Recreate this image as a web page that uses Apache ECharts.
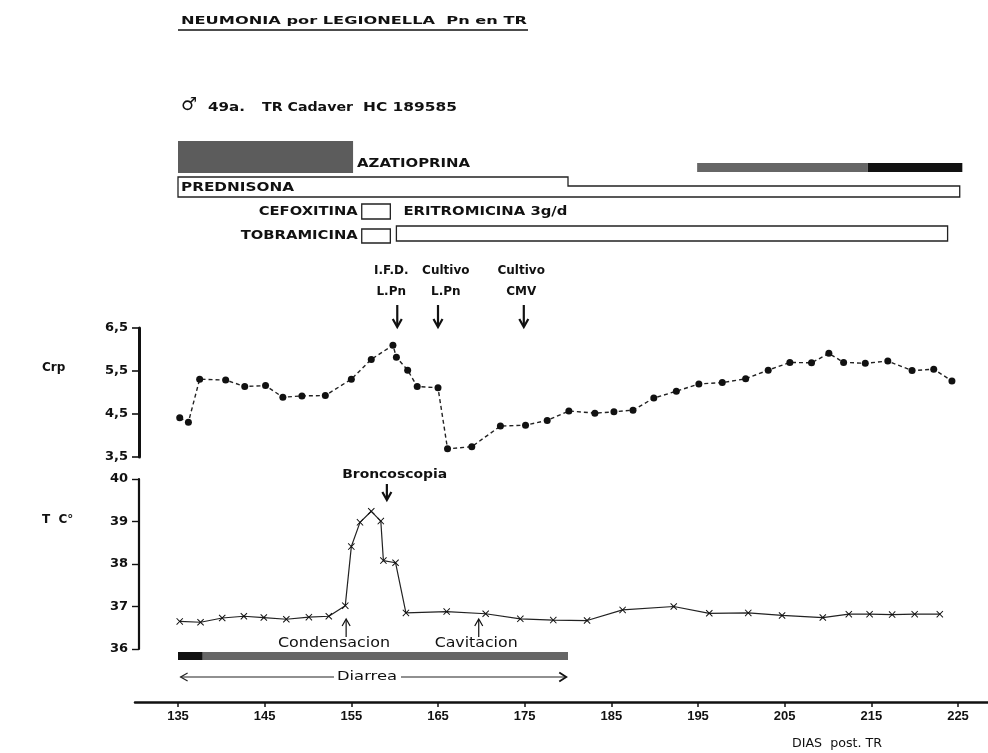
<!DOCTYPE html>
<html><head><meta charset="utf-8">
<script src="https://cdn.jsdelivr.net/npm/echarts@6/dist/echarts.min.js"></script>
<style>html,body{margin:0;padding:0;background:#fff}#c{width:988px;height:753px}</style>
</head><body><div id="c"></div>
<script>
// ---------------- DATA ----------------
const xTicks = [135,145,155,165,175,185,195,205,215,225];
const crpDays = [135.2,136.2,137.5,140.5,142.7,145.1,147.1,149.3,152.0,155.0,157.3,159.8,160.2,161.5,162.6,165.0,166.1,168.9,172.2,175.1,177.6,180.1,183.1,185.3,187.5,189.9,192.5,195.1,197.8,200.5,203.1,205.6,208.1,210.1,211.8,214.3,216.9,219.7,222.2,224.3];
const crpValues = [4.41,4.31,5.31,5.29,5.14,5.16,4.89,4.92,4.93,5.31,5.77,6.10,5.82,5.52,5.14,5.11,3.69,3.74,4.22,4.24,4.35,4.57,4.52,4.55,4.59,4.87,5.03,5.20,5.23,5.32,5.52,5.70,5.69,5.91,5.70,5.68,5.73,5.51,5.54,5.27];
const tempDays = [135.2,137.6,140.1,142.6,144.9,147.5,150.1,152.4,154.3,155.0,156.0,157.3,158.4,158.7,160.1,161.3,166.0,170.5,174.5,178.3,182.2,186.3,192.2,196.3,200.8,204.7,209.4,212.4,214.8,217.4,220.0,222.9];
const tempValues = [36.65,36.63,36.73,36.77,36.74,36.70,36.75,36.77,37.02,38.41,38.98,39.24,39.01,38.08,38.03,36.85,36.88,36.83,36.71,36.68,36.67,36.92,37.00,36.84,36.85,36.79,36.74,36.82,36.82,36.81,36.82,36.82];
// treatments (days): start, [change], end
const azatioprinaEarly = [135, 155.2];
const azatioprinaLate = [194.9, 214.6, 225.5];   // start, dark part start, end
const prednisona = [135, 180, 225.2];            // start, dose step, end
const cefoxitina = [156.2, 159.5];
const tobramicina = [156.2, 159.5];
const eritromicina = [160.2, 223.8];
const diarrea = [135, 137.8, 180];               // start, dark part end, end
const diarreaArrow = [135.3, 179.8];
// events
const eventDays = [160.3, 165.0, 174.9];
const eventLabelDays = [159.6, 165.9, 174.6];
const eventLabels = [['I.F.D.','L.Pn'],['Cultivo','L.Pn'],['Cultivo','CMV']];
const tempEventDays = [159.1, 154.4, 169.7];
const tempEventLabelDays = [160.0, 153.0, 169.4];
const tempEventLabels = ['Broncoscopia','Condensacion','Cavitacion'];

// ---------------- LAYOUT ----------------
const PPD = 780/90;               // pixels per day
const DAY0_PX = 178;              // pixel of day 135
const GL = 139, GW = 849;
const XMIN = 135 - (DAY0_PX-GL)/PPD, XMAX = XMIN + GW/PPD;
const BL = 135, BW = 853;
const BXMIN = 135 - (DAY0_PX-BL)/PPD, BXMAX = BXMIN + BW/PPD;
const FONT = '"DejaVu Sans", "Liberation Sans", sans-serif';
const INK = '#111';

const mctx = document.createElement('canvas').getContext('2d');
function measure(t, font){ mctx.font = font; return mctx.measureText(t).width; }
function txt(t, font, x, y, w, align){
  const s = w ? w/measure(t, font) : 1;
  align = align || 'left';
  return {type:'text', x:x, y:y, scaleX:s, silent:true,
    style:{text:t, x:0, y:0, font:font, fill:INK, textAlign:align, textVerticalAlign:'middle', align:align, verticalAlign:'middle'}};
}
const LBL = 'bold 12px ' + FONT;
const ANN = 'bold 12px ' + FONT;

const drugKinds = ['azaEarly','azaLate','pred','cefox','tobra','eritro','diarrea'];
function renderDrug(params, api){
  const X = d => api.coord([d, 0])[0];
  const Y = p => api.coord([XMIN, p])[1];
  const k = drugKinds[params.dataIndex];
  const ch = [];
  const box = (x0,x1,y0,y1) => ({type:'rect', shape:{x:X(x0), y:Y(y0), width:X(x1)-X(x0), height:Y(y1)-Y(y0)}, style:{fill:'none', stroke:'#222', lineWidth:1.3}});
  const bar = (x0,x1,y0,y1,c) => ({type:'rect', shape:{x:X(x0), y:Y(y0), width:X(x1)-X(x0), height:Y(y1)-Y(y0)}, style:{fill:c}});
  if (k==='azaEarly'){
    ch.push(bar(azatioprinaEarly[0], azatioprinaEarly[1], 141, 173, '#5c5c5c'));
    ch.push(txt('AZATIOPRINA', LBL, X(azatioprinaEarly[1])+4, Y(164), 113));
  } else if (k==='azaLate'){
    ch.push(bar(azatioprinaLate[0], azatioprinaLate[1], 163, 172, '#666'));
    ch.push(bar(azatioprinaLate[1], azatioprinaLate[2], 163, 172, '#111'));
  } else if (k==='pred'){
    const s=X(prednisona[0]), m=X(prednisona[1]), e=X(prednisona[2]);
    ch.push({type:'polygon', shape:{points:[[s,Y(177)],[m,Y(177)],[m,Y(186)],[e,Y(186)],[e,Y(197)],[s,Y(197)]]}, style:{fill:'none', stroke:'#222', lineWidth:1.3}});
    ch.push(txt('PREDNISONA', LBL, s+3, Y(187.5), 113));
  } else if (k==='cefox'){
    ch.push(box(cefoxitina[0], cefoxitina[1], 204, 219));
    ch.push(txt('CEFOXITINA', LBL, X(cefoxitina[0])-4, Y(212), 99, 'right'));
  } else if (k==='tobra'){
    ch.push(box(tobramicina[0], tobramicina[1], 229, 243));
    ch.push(txt('TOBRAMICINA', LBL, X(tobramicina[0])-4, Y(236), 117, 'right'));
  } else if (k==='eritro'){
    ch.push(box(eritromicina[0], eritromicina[1], 226, 241));
    ch.push(txt('ERITROMICINA 3g/d', LBL, X(eritromicina[0])+7, Y(212), 164));
  } else if (k==='diarrea'){
    ch.push(bar(diarrea[0], diarrea[2], 652, 660, '#666'));
    ch.push(bar(diarrea[0], diarrea[1], 652, 660, '#111'));
    const a0=X(diarreaArrow[0]), a1=X(diarreaArrow[1]), y=Y(677);
    const tc = 367, tw = 60;
    const st = {stroke:'#222', lineWidth:1.2, fill:'none'};
    ch.push({type:'line', shape:{x1:a0, y1:y, x2:tc-tw/2-3, y2:y}, style:st});
    ch.push({type:'line', shape:{x1:tc+tw/2+4, y1:y, x2:a1, y2:y}, style:st});
    ch.push({type:'polyline', shape:{points:[[a0+7,y-4],[a0,y],[a0+7,y+4]]}, style:st});
    ch.push({type:'polyline', shape:{points:[[a1-7,y-4.5],[a1,y],[a1-7,y+4.5]]}, style:{stroke:'#111', lineWidth:1.8, fill:'none'}});
    ch.push(txt('Diarrea', '12px '+FONT, tc-tw/2, y, tw));
  }
  return {type:'group', children:ch};
}

function renderEvent(params, api){
  const X = d => api.coord([d, 0])[0];
  const Y = p => api.coord([XMIN, p])[1];
  const i = params.dataIndex;
  const ax = X(eventDays[i]), lx = X(eventLabelDays[i]);
  const st = {stroke:INK, lineWidth:2.2, fill:'none'};
  return {type:'group', children:[
    txt(eventLabels[i][0], ANN, lx, Y(271), null, 'center'),
    txt(eventLabels[i][1], ANN, lx, Y(292), null, 'center'),
    {type:'line', shape:{x1:ax, y1:Y(305), x2:ax, y2:Y(326)}, style:st},
    {type:'polyline', shape:{points:[[ax-4.5,Y(319)],[ax,Y(327)],[ax+4.5,Y(319)]]}, style:st}
  ]};
}

function renderTempEvent(params, api){
  const X = d => api.coord([d, 0])[0];
  const Y = p => api.coord([XMIN, p])[1];
  const i = params.dataIndex;
  const ax = X(tempEventDays[i]), lx = X(tempEventLabelDays[i]);
  const widths = [105, 112, 83];
  if (i === 0){
    const st = {stroke:INK, lineWidth:2.2, fill:'none'};
    return {type:'group', children:[
      txt(tempEventLabels[i], 'bold 13px '+FONT, lx, Y(475), widths[i], 'center'),
      {type:'line', shape:{x1:ax, y1:Y(484), x2:ax, y2:Y(499)}, style:st},
      {type:'polyline', shape:{points:[[ax-4.5,Y(492)],[ax,Y(500)],[ax+4.5,Y(492)]]}, style:st}
    ]};
  }
  const st = {stroke:INK, lineWidth:1.2, fill:'none'};
  return {type:'group', children:[
    txt(tempEventLabels[i], '14px '+FONT, lx, Y(643), widths[i], 'center'),
    {type:'line', shape:{x1:ax, y1:Y(637), x2:ax, y2:Y(620)}, style:st},
    {type:'polyline', shape:{points:[[ax-4,Y(626)],[ax,Y(619)],[ax+4,Y(626)]]}, style:st}
  ]};
}

const chart = echarts.init(document.getElementById('c'), null, {renderer:'canvas'});
const yLabel = {fontFamily:FONT, fontWeight:'bold', fontSize:13, color:INK, margin:11, padding:[0,0,6,0]};
const hiddenX = (g, mn, mx) => ({type:'value', gridIndex:g, min:mn, max:mx, show:false, splitLine:{show:false}});

const graphicEls = [
  {type:'text', x:181, y:21, scaleX:346/measure('NEUMONIA por LEGIONELLA  Pn en TR','bold 11px '+FONT), style:{text:'NEUMONIA por LEGIONELLA  Pn en TR', font:'bold 11px '+FONT, fill:INK, textAlign:'left', textVerticalAlign:'middle'}},
  {type:'line', shape:{x1:178, y1:30, x2:528, y2:30}, style:{stroke:INK, lineWidth:1.3}},
  {type:'text', x:181, y:105, style:{text:'\u2642', font:'bold 18px '+FONT, fill:INK, textAlign:'left', textVerticalAlign:'middle'}},
  {type:'text', x:208, y:108, scaleX:37/measure('49a.','bold 13px '+FONT), style:{text:'49a.', font:'bold 13px '+FONT, fill:INK, textAlign:'left', textVerticalAlign:'middle'}},
  {type:'text', x:262, y:108, scaleX:91/measure('TR Cadaver','bold 13px '+FONT), style:{text:'TR Cadaver', font:'bold 13px '+FONT, fill:INK, textAlign:'left', textVerticalAlign:'middle'}},
  {type:'text', x:363, y:108, scaleX:94/measure('HC 189585','bold 13px '+FONT), style:{text:'HC 189585', font:'bold 13px '+FONT, fill:INK, textAlign:'left', textVerticalAlign:'middle'}},
  {type:'text', x:42, y:368, style:{text:'Crp', font:'bold 12px '+FONT, fill:INK, textAlign:'left', textVerticalAlign:'middle'}},
  {type:'text', x:42, y:520, style:{text:'T  C\u00b0', font:'bold 12px '+FONT, fill:INK, textAlign:'left', textVerticalAlign:'middle'}},
  {type:'text', x:792, y:744, scaleX:90/measure('DIAS  post. TR','13px '+FONT), style:{text:'DIAS  post. TR', font:'13px '+FONT, fill:INK, textAlign:'left', textVerticalAlign:'middle'}}
];

chart.setOption({
  animation:false,
  backgroundColor:'#fff',
  grid:[
    {left:GL, width:GW, top:328, height:129, outerBoundsMode:'none'},
    {left:GL, width:GW, top:479, height:170, outerBoundsMode:'none'},
    {left:GL, width:GW, top:0, height:753, outerBoundsMode:'none'},
    {left:BL, width:BW, top:701, height:1, outerBoundsMode:'none'}
  ],
  xAxis:[
    hiddenX(0, XMIN, XMAX),
    hiddenX(1, XMIN, XMAX),
    hiddenX(2, XMIN, XMAX),
    {type:'value', gridIndex:3, min:BXMIN, max:BXMAX, position:'bottom',
     axisLine:{show:true, lineStyle:{color:INK, width:2.5}},
     axisTick:{show:true, customValues:xTicks, length:5, lineStyle:{color:INK, width:1.5}},
     axisLabel:{show:true, customValues:xTicks, margin:8, fontFamily:'"Liberation Sans", sans-serif', fontWeight:'bold', fontSize:13, color:INK},
     splitLine:{show:false}}
  ],
  yAxis:[
    {type:'value', gridIndex:0, min:3.5, max:6.5, interval:1, position:'left',
     axisLine:{show:true, lineStyle:{color:INK, width:3}},
     axisTick:{show:true, length:7, lineStyle:{color:INK, width:1.6}},
     axisLabel:Object.assign({formatter:v=>v.toFixed(1).replace('.', ',')}, yLabel),
     splitLine:{show:false}},
    {type:'value', gridIndex:1, min:36, max:40, interval:1, position:'left',
     axisLine:{show:true, lineStyle:{color:INK, width:2.2}},
     axisTick:{show:true, length:7, lineStyle:{color:INK, width:1.4}},
     axisLabel:Object.assign({formatter:v=>String(v)}, yLabel),
     splitLine:{show:false}},
    {type:'value', gridIndex:2, min:0, max:753, inverse:true, show:false, splitLine:{show:false}},
    {type:'value', gridIndex:3, min:0, max:1, show:false, splitLine:{show:false}}
  ],
  series:[
    {type:'line', name:'Crp', xAxisIndex:0, yAxisIndex:0,
     data:crpDays.map((d,i)=>[d, crpValues[i]]),
     symbol:'circle', symbolSize:7, itemStyle:{color:'#111'},
     lineStyle:{color:'#222', width:1.4, type:[4,3]}, z:3},
    {type:'line', name:'T', xAxisIndex:1, yAxisIndex:1,
     data:tempDays.map((d,i)=>[d, tempValues[i]]),
     symbol:'path://M0,1L1,0L5,4L9,0L10,1L6,5L10,9L9,10L5,6L1,10L0,9L4,5Z', symbolSize:7,
     itemStyle:{color:'#111'}, lineStyle:{color:'#222', width:1.2}, z:3},
    {type:'custom', xAxisIndex:2, yAxisIndex:2, clip:false, silent:true,
     data:drugKinds.map((k,i)=>[i]), encode:{x:-1, y:-1}, renderItem:renderDrug},
    {type:'custom', xAxisIndex:2, yAxisIndex:2, clip:false, silent:true,
     data:eventDays.map(d=>[d]), encode:{x:0, y:-1}, renderItem:renderEvent},
    {type:'custom', xAxisIndex:2, yAxisIndex:2, clip:false, silent:true,
     data:tempEventDays.map(d=>[d]), encode:{x:0, y:-1}, renderItem:renderTempEvent}
  ],
  graphic:graphicEls
});
</script></body></html>
